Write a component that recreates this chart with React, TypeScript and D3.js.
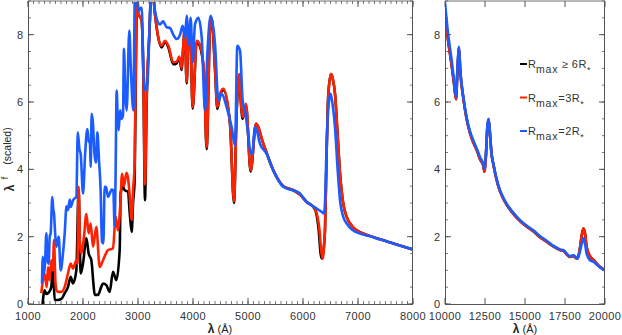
import React from 'react';
import * as d3 from 'd3';

// ---- Data: [wavelength (Å), scaled flux] ----
const blackLeft: [number, number][] = [
  [1265, 0.0], [1290, 0.35], [1303, 0.41], [1335, 0.3], [1364, 0.32], [1400, 0.4], [1424, 0.51],
  [1455, 1.25], [1470, 0.6], [1485, 0.12], [1545, 0.12], [1606, 0.15], [1667, 0.32], [1727, 0.51],
  [1776, 0.81], [1818, 0.61], [1879, 1.0], [1921, 3.4], [1945, 1.5], [1958, 0.91], [2000, 1.2],
  [2061, 1.95], [2103, 1.5], [2152, 1.3], [2190, 0.6], [2212, 0.27], [2273, 0.27], [2330, 0.5],
  [2364, 0.61], [2424, 0.56], [2485, 0.36], [2545, 0.96], [2606, 0.71], [2667, 1.6], [2685, 3.3],
  [2727, 3.48], [2758, 3.38], [2818, 3.33], [2850, 2.7], [2885, 2.14], [2910, 3.0], [2939, 3.67],
  [2965, 7.5], [2985, 9.3], [3006, 8.6], [3048, 8.5], [3067, 8.4], [3097, 6.8], [3127, 3.08],
  [3158, 6.0], [3206, 8.0], [3240, 9.2], [3270, 9.2], [3309, 8.6], [3370, 7.9], [3430, 7.62],
  [3491, 7.78], [3552, 7.62], [3642, 7.12], [3703, 7.15], [3752, 7.3], [3794, 6.95], [3820, 7.55],
  [3850, 8.15], [3885, 6.55], [3915, 7.85], [3945, 8.25], [3994, 5.8], [4067, 7.78], [4127, 7.65],
  [4200, 6.85], [4248, 4.6], [4309, 8.15], [4340, 8.45], [4400, 6.98], [4442, 5.8], [4491, 6.2],
  [4552, 6.35], [4673, 5.35], [4745, 3.0], [4794, 5.7], [4842, 6.8], [4870, 6.0], [4903, 5.5],
  [4964, 5.9], [5048, 3.93], [5145, 5.35], [5279, 4.76], [5460, 3.97], [5642, 3.5], [5760, 3.42],
  [5824, 3.38], [5945, 3.25], [6067, 3.03], [6188, 2.88], [6240, 2.7], [6285, 2.2], [6320, 1.5],
  [6345, 1.35], [6385, 1.8], [6400, 2.2], [6430, 4.5], [6461, 6.24], [6509, 6.83], [6540, 6.7],
  [6582, 6.24], [6630, 5.0], [6673, 3.87], [6730, 3.0], [6794, 2.59], [6900, 2.3], [6976, 2.19],
  [7200, 2.03], [7400, 1.92], [7642, 1.8], [8000, 1.62],
];

const redLeft: [number, number][] = [
  [1242, 0.32], [1258, 0.55], [1273, 0.71], [1295, 0.9], [1315, 0.81], [1340, 0.5], [1364, 1.1],
  [1394, 0.71], [1424, 1.3], [1450, 1.0], [1473, 1.9], [1497, 0.71], [1520, 0.4], [1545, 0.36],
  [1606, 0.36], [1667, 0.51], [1727, 0.91], [1776, 1.2], [1818, 1.05], [1879, 1.3], [1900, 1.2],
  [1921, 3.48], [1945, 1.8], [1970, 1.5], [2018, 2.0], [2061, 2.67], [2103, 2.1], [2139, 2.39],
  [2182, 1.7], [2242, 2.29], [2303, 1.1], [2364, 1.3], [2455, 1.6], [2545, 1.65], [2594, 2.59],
  [2636, 2.19], [2680, 3.0], [2710, 3.87], [2745, 3.5], [2790, 3.9], [2818, 3.75], [2850, 3.2],
  [2885, 2.5], [2915, 3.5], [2939, 4.15], [2965, 8.0], [2985, 9.3], [3006, 8.6], [3048, 8.5],
  [3067, 8.4], [3097, 6.9], [3127, 3.55], [3158, 6.2], [3206, 8.0], [3240, 9.2], [3270, 9.2],
  [3309, 8.6], [3370, 7.9], [3430, 7.67], [3491, 7.82], [3552, 7.67], [3642, 7.18], [3703, 7.2],
  [3752, 7.35], [3794, 7.0], [3820, 7.6], [3850, 8.2], [3885, 6.6], [3915, 7.9], [3945, 8.3],
  [3994, 5.85], [4067, 7.82], [4127, 7.7], [4200, 6.9], [4248, 4.66], [4309, 8.2], [4340, 8.5],
  [4400, 7.0], [4442, 5.85], [4491, 6.24], [4552, 6.39], [4673, 5.35], [4745, 3.05], [4794, 5.75],
  [4842, 6.83], [4870, 6.0], [4903, 5.55], [4964, 5.95], [5048, 3.97], [5145, 5.35], [5279, 4.76],
  [5460, 3.97], [5642, 3.5], [5760, 3.42], [5824, 3.38], [5945, 3.25], [6067, 3.03], [6188, 2.88],
  [6248, 2.7], [6300, 2.2], [6330, 1.6], [6358, 1.35], [6385, 1.8], [6400, 2.2], [6430, 4.5],
  [6461, 6.24], [6509, 6.83], [6540, 6.7], [6582, 6.24], [6630, 5.0], [6673, 3.87], [6730, 3.0],
  [6794, 2.59], [6900, 2.3], [6976, 2.19], [7200, 2.03], [7400, 1.92], [7642, 1.8], [8000, 1.62],
];

const blueLeft: [number, number][] = [
  [1255, 0.61], [1268, 1.4], [1290, 0.9], [1310, 1.2], [1333, 2.1], [1355, 1.3], [1376, 1.2],
  [1395, 2.0], [1412, 2.1], [1442, 3.18], [1460, 2.8], [1473, 2.69], [1490, 2.2], [1515, 1.7],
  [1558, 2.0], [1594, 1.0], [1636, 1.5], [1667, 2.1], [1700, 2.9], [1727, 2.79], [1760, 3.1],
  [1776, 2.88], [1818, 3.08], [1860, 3.15], [1879, 3.18], [1905, 5.1], [1935, 4.6], [1958, 4.46],
  [2000, 3.28], [2040, 4.5], [2079, 5.2], [2103, 4.86], [2127, 4.76], [2139, 4.07], [2158, 5.65],
  [2182, 5.35], [2206, 4.5], [2235, 4.2], [2261, 5.1], [2290, 4.3], [2320, 3.4], [2345, 1.85],
  [2370, 1.8], [2394, 3.48], [2418, 3.48], [2455, 3.18], [2491, 3.3], [2520, 3.4], [2551, 3.38],
  [2575, 2.3], [2590, 3.5], [2612, 6.34], [2630, 5.6], [2648, 5.16], [2673, 5.75], [2700, 5.5],
  [2727, 5.6], [2745, 7.58], [2770, 6.2], [2794, 5.75], [2842, 8.12], [2870, 7.0], [2915, 5.75],
  [2945, 9.3], [2964, 9.3], [3006, 8.7], [3048, 8.8], [3067, 8.8], [3097, 7.03], [3127, 6.34],
  [3170, 6.54], [3206, 8.0], [3240, 9.3], [3270, 9.3], [3309, 8.7], [3400, 8.3], [3455, 8.4],
  [3521, 8.22], [3582, 8.2], [3642, 8.0], [3703, 7.87], [3764, 8.0], [3812, 8.26], [3855, 7.92],
  [3885, 8.56], [3921, 7.7], [3958, 8.5], [3994, 7.18], [4036, 8.3], [4097, 8.5], [4158, 7.92],
  [4218, 5.75], [4261, 7.42], [4321, 8.56], [4400, 7.72], [4461, 6.04], [4521, 6.24], [4612, 5.85],
  [4703, 5.25], [4764, 4.71], [4806, 7.67], [4855, 7.53], [4903, 6.04], [4945, 5.75], [5006, 5.0],
  [5050, 4.46], [5080, 4.5], [5127, 5.25], [5160, 5.15], [5218, 4.76], [5340, 4.46], [5460, 3.97],
  [5642, 3.48], [5760, 3.4], [5824, 3.38], [5945, 3.28], [6067, 3.03], [6188, 2.9], [6280, 2.8],
  [6339, 2.74], [6382, 2.69], [6400, 3.0], [6430, 4.76], [6470, 6.0], [6503, 6.24], [6540, 5.9],
  [6582, 5.25], [6630, 4.0], [6673, 3.08], [6730, 2.6], [6794, 2.39], [6900, 2.2], [7036, 2.09],
  [7200, 2.02], [7400, 1.92], [7642, 1.8], [8000, 1.62],
];

const blackRight: [number, number][] = [
  [10000, 8.65], [10200, 7.8], [10400, 7.15], [10550, 6.6], [10690, 6.08], [10780, 6.95],
  [10875, 7.6], [10950, 6.95], [11150, 6.1], [11350, 5.5], [11550, 5.1], [11770, 4.8],
  [12000, 4.55], [12190, 4.3], [12400, 4.1], [12460, 3.93], [12550, 4.35], [12650, 5.25],
  [12730, 5.48], [12820, 5.0], [12900, 4.5], [13020, 4.15], [13330, 3.5], [13600, 3.17],
  [13850, 2.95], [14200, 2.72], [14690, 2.46], [15100, 2.3], [15520, 2.16], [15900, 2.0],
  [16350, 1.85], [16700, 1.73], [17080, 1.63], [17200, 1.6], [17400, 1.58], [17600, 1.48],
  [17810, 1.4], [18020, 1.43], [18150, 1.38], [18270, 1.35], [18400, 1.55], [18550, 2.05],
  [18650, 2.24], [18750, 2.1], [18850, 1.7], [19060, 1.42], [19300, 1.3], [19480, 1.2],
  [19700, 1.1], [20000, 1.0],
];

const redRight: [number, number][] = [
  [10000, 8.65], [10200, 7.8], [10400, 7.15], [10550, 6.6], [10690, 6.08], [10780, 6.95],
  [10875, 7.6], [10950, 6.95], [11150, 6.1], [11350, 5.5], [11550, 5.1], [11770, 4.8],
  [12000, 4.55], [12190, 4.3], [12400, 4.1], [12460, 3.93], [12550, 4.35], [12650, 5.25],
  [12730, 5.48], [12820, 5.0], [12900, 4.5], [13020, 4.15], [13330, 3.5], [13600, 3.17],
  [13850, 2.95], [14200, 2.72], [14690, 2.46], [15100, 2.3], [15520, 2.16], [15900, 2.0],
  [16350, 1.85], [16700, 1.73], [17080, 1.63], [17200, 1.6], [17400, 1.58], [17600, 1.48],
  [17810, 1.4], [18020, 1.43], [18150, 1.38], [18270, 1.35], [18400, 1.55], [18550, 2.05],
  [18650, 2.24], [18750, 2.1], [18850, 1.7], [19060, 1.42], [19300, 1.3], [19480, 1.2],
  [19700, 1.1], [20000, 1.0],
];

const blueRight: [number, number][] = [
  [10000, 8.95], [10200, 8.0], [10400, 7.3], [10550, 6.7], [10690, 6.15], [10780, 7.0],
  [10875, 7.64], [10950, 7.0], [11150, 6.14], [11350, 5.55], [11550, 5.15], [11770, 4.86],
  [12000, 4.6], [12190, 4.36], [12400, 4.15], [12460, 4.02], [12550, 4.4], [12650, 5.3],
  [12730, 5.5], [12820, 5.0], [12900, 4.5], [13020, 4.17], [13330, 3.53], [13600, 3.2],
  [13850, 2.98], [14200, 2.75], [14690, 2.49], [15100, 2.33], [15520, 2.19], [15900, 2.03],
  [16350, 1.88], [16700, 1.75], [17080, 1.65], [17200, 1.62], [17400, 1.6], [17600, 1.5],
  [17810, 1.42], [18020, 1.45], [18150, 1.4], [18270, 1.35], [18400, 1.5], [18550, 1.8],
  [18650, 1.95], [18750, 1.8], [18850, 1.5], [19060, 1.3], [19300, 1.25], [19480, 1.17],
  [19700, 1.08], [20000, 1.0],
];

const leftXTicks = [1000, 2000, 3000, 4000, 5000, 6000, 7000, 8000];
const rightXTicks = [10000, 12500, 15000, 17500, 20000];
const yTicks = [0, 2, 4, 6, 8];

const seriesColors = { black: '#000000', red: '#ff2200', blue: '#1a5cff' };
const legendItems = [
  { key: 'black', rel: ' \u2265  6R' },
  { key: 'red', rel: '=3R' },
  { key: 'blue', rel: '=2R' },
];

const FONT = "'Liberation Sans', Arial, Helvetica, sans-serif";
const TXT = '#333';
const AX = '#555';

function Panel({ x, xTicks, minorStep, series, id, labelCenter }: any) {
  const y = d3.scaleLinear().domain([0, 9]).range([304, 1]);
  const [x0, x1] = x.range();
  const line = d3
    .line<[number, number]>()
    .x((d) => x(d[0]))
    .y((d) => y(d[1]))
    .curve(d3.curveMonotoneX);
  const dom = x.domain();
  const minorX = minorStep ? d3.range(dom[0], dom[1] + 1, minorStep) : [];
  const minorY = d3.range(0, 9.01, 0.5);
  return (
    <g>
      <defs>
        <clipPath id={id}>
          <rect x={x0} y={1} width={x1 - x0} height={303} />
        </clipPath>
      </defs>
      <g clipPath={`url(#${id})`}>
        {series.map((s: any, i: number) => (
          <path key={i} d={line(s.data) || ''} fill="none" stroke={s.color} strokeWidth={2.6} strokeLinejoin="round" />
        ))}
      </g>
      <line x1={x0} x2={x1} y1={304.5} y2={304.5} stroke={AX} strokeWidth={1} />
      <line x1={x0 + 0.5} x2={x0 + 0.5} y1={1} y2={304.5} stroke={AX} strokeWidth={1} />
      <line x1={x1 - 0.5} x2={x1 - 0.5} y1={1} y2={304.5} stroke={AX} strokeWidth={1} />
      <line x1={x0} x2={x1} y1={1} y2={1} stroke="#b8b8b8" strokeWidth={2} />
      {minorX.map((v: number) => (
        <g key={'mx' + v}>
          <line x1={x(v)} x2={x(v)} y1={304} y2={301} stroke={AX} strokeWidth={0.8} />
          <line x1={x(v)} x2={x(v)} y1={1} y2={4} stroke={AX} strokeWidth={0.8} />
        </g>
      ))}
      {xTicks.map((v: number) => (
        <g key={'x' + v}>
          <line x1={x(v)} x2={x(v)} y1={304} y2={298} stroke={AX} strokeWidth={1} />
          <line x1={x(v)} x2={x(v)} y1={1} y2={7} stroke={AX} strokeWidth={1} />
          <text x={x(v)} y={320} textAnchor="middle" fontSize={11} letterSpacing={0.4} fill={TXT} fontFamily={FONT}>
            {v}
          </text>
        </g>
      ))}
      {minorY.map((v: number) => (
        <g key={'my' + v}>
          <line x1={x0} x2={x0 + 3} y1={y(v)} y2={y(v)} stroke={AX} strokeWidth={0.8} />
          <line x1={x1} x2={x1 - 3} y1={y(v)} y2={y(v)} stroke={AX} strokeWidth={0.8} />
        </g>
      ))}
      {yTicks.map((v) => (
        <g key={'y' + v}>
          <line x1={x0} x2={x0 + 6} y1={y(v)} y2={y(v)} stroke={AX} strokeWidth={1} />
          <line x1={x1} x2={x1 - 6} y1={y(v)} y2={y(v)} stroke={AX} strokeWidth={1} />
          <text x={x0 - 5} y={y(v) + 4} textAnchor="end" fontSize={11} fill={TXT} fontFamily={FONT}>
            {v}
          </text>
        </g>
      ))}
      <text x={labelCenter} y={333} textAnchor="middle" fontSize={11} fill="#222" fontFamily={FONT}>
        <tspan fontWeight="bold" fontSize={12}>λ</tspan>
        <tspan> (Å)</tspan>
      </text>
    </g>
  );
}

export default function App() {
  const xL = d3.scaleLinear().domain([1000, 8000]).range([28, 413]);
  const xR = d3.scaleLinear().domain([10000, 20000]).range([445, 605]);
  const leftSeries = [
    { data: blackLeft, color: seriesColors.black },
    { data: redLeft, color: seriesColors.red },
    { data: blueLeft, color: seriesColors.blue },
  ];
  const rightSeries = [
    { data: blackRight, color: seriesColors.black },
    { data: redRight, color: seriesColors.red },
    { data: blueRight, color: seriesColors.blue },
  ];
  const legendY = d3.scaleLinear().domain([0, 1]).range([64, 97.5]);
  return (
    <svg width={622} height={335} style={{ position: 'absolute', left: 0, top: 0, background: '#fff' }}>
      <rect width={622} height={335} fill="#fff" />
      <Panel x={xL} xTicks={leftXTicks} minorStep={100} series={leftSeries} id="clipL" labelCenter={220} />
      <Panel x={xR} xTicks={rightXTicks} minorStep={0} series={rightSeries} id="clipR" labelCenter={525} />
      <text transform="translate(11,146) rotate(-90)" textAnchor="middle" fontSize={10.5} fill="#222" fontFamily={FONT}>
        (scaled)
      </text>
      <text transform="translate(8,178) rotate(-90)" textAnchor="middle" fontSize={9} fill="#222" fontFamily={FONT}>
        f
      </text>
      <text transform="translate(14,188) rotate(-90)" textAnchor="middle" fontSize={12} fontWeight="bold" fill="#222" fontFamily={FONT}>
        λ
      </text>
      {legendItems.map((it, i) => {
        const ly = legendY(i);
        return (
          <g key={it.key}>
            <line x1={520} x2={527} y1={ly} y2={ly} stroke={(seriesColors as any)[it.key]} strokeWidth={2} />
            <text x={528} y={ly + 4} fontSize={11} fill={TXT} fontFamily={FONT}>
              <tspan>R</tspan>
              <tspan dy={5} fontSize={10.5} letterSpacing={0.8}>max</tspan>
              <tspan dy={-5} letterSpacing={0.5}>{it.rel}</tspan>
              <tspan dy={5} fontSize={9}>*</tspan>
            </text>
          </g>
        );
      })}
    </svg>
  );
}
